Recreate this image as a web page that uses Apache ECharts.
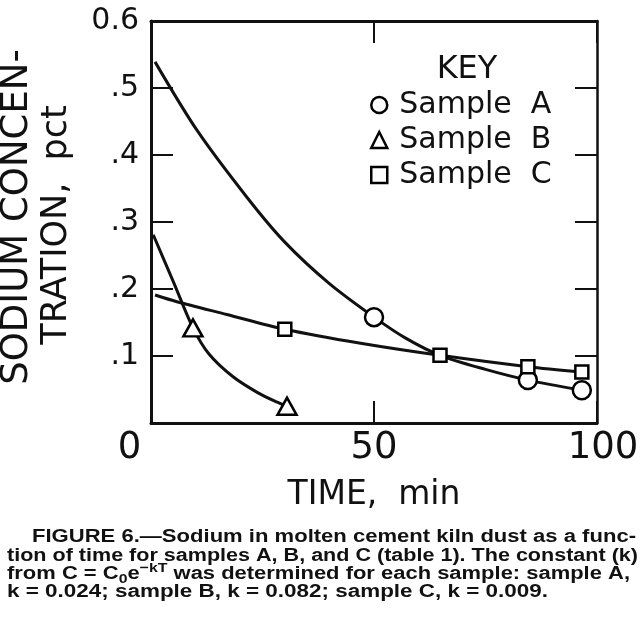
<!DOCTYPE html>
<html><head><meta charset="utf-8">
<script src="https://cdn.jsdelivr.net/npm/echarts@6/dist/echarts.min.js"></script>
<style>html,body{margin:0;padding:0;background:#fff}#chart{width:643px;height:630px}</style>
</head><body><div id="chart"></div>
<script>
// ---------------- data ----------------
const sampleNames = ['Sample A', 'Sample B', 'Sample C'];
const xTickValues = [0, 50, 100];
const xTickLabels = ['0', '50', '100'];
const yTickValues = [0.1, 0.2, 0.3, 0.4, 0.5, 0.6];
const yTickLabels = ['.1', '.2', '.3', '.4', '.5', '0.6'];
const xAxisTitle = 'TIME,  min';
const yAxisTitle1 = 'SODIUM CONCEN-';
const yAxisTitle2 = 'TRATION,  pct';
const keyTitle = 'KEY';

// measured points (time min, sodium pct)
const markersA = [[50.0, 0.158], [84.5, 0.064], [96.6, 0.049]];
const markersB = [[9.4, 0.142], [30.5, 0.025]];
const markersC = [[30.0, 0.140], [64.8, 0.101], [84.5, 0.084], [96.6, 0.076]];

// drawn curves, read along the lines of the figure
const curveA = [[0.9, 0.539], [10.3, 0.437], [21.5, 0.337], [30.0, 0.270], [40.0, 0.208],
                [50.0, 0.158], [57.0, 0.127], [64.8, 0.101], [75.0, 0.080], [84.5, 0.064],
                [96.6, 0.049]];
const curveB = [[0.5, 0.281], [5.0, 0.211], [9.4, 0.142], [13.0, 0.103], [18.4, 0.069],
                [24.0, 0.045], [28.3, 0.031], [30.5, 0.025]];
const curveC = [[0.9, 0.191], [5.8, 0.181], [17.0, 0.162], [30.0, 0.140], [47.0, 0.119],
                [64.8, 0.101], [84.5, 0.084], [96.6, 0.076]];

const captionL1 = 'FIGURE 6.\u2014Sodium in molten cement kiln dust as a func-';
const captionL2 = 'tion of time for samples A, B, and C (table 1). The constant (k)';
const captionL3 = [{t: 'from C = C'}, {t: '0', sub: true}, {t: 'e'}, {t: '\u2212kT', sup: true},
                   {t: ' was determined for each sample: sample A,'}];
const captionL4 = 'k = 0.024; sample B, k = 0.082; sample C, k = 0.009.';

// ---------------- styles ----------------
const INK = '#000';
const FONT = '"DejaVu Sans", "Liberation Sans", sans-serif';
const CAP_FONT = '"Liberation Sans", Arial, sans-serif';

const chart = echarts.init(document.getElementById('chart'), null, {renderer: 'canvas'});

function yLabel(v) {
  for (let i = 0; i < yTickValues.length; i++) if (Math.abs(yTickValues[i] - v) < 1e-6) return yTickLabels[i];
  return '';
}
function xLabel(v) {
  const i = xTickValues.findIndex(t => Math.abs(t - v) < 1e-6);
  if (i < 0) return '';
  if (i === 0) return '{l|' + xTickLabels[i] + '}';
  if (i === xTickValues.length - 1) return '{r|' + xTickLabels[i] + '}';
  return xTickLabels[i];
}

// caption layout: fit each line to its measured extent
const mctx = document.createElement('canvas').getContext('2d');
function capFont(sz) { return 'bold ' + sz + 'px ' + CAP_FONT; }
function layoutCaption(pieces, x0, x1, baseline) {
  const els = [];
  const items = pieces.map(p => {
    const sz = (p.sub || p.sup) ? 13 : 18;
    mctx.font = capFont(sz);
    return {p, sz, w: mctx.measureText(p.t).width};
  });
  const total = items.reduce((s, it) => s + it.w, 0);
  const sc = (x1 - x0) / total;
  let x = x0;
  items.forEach(it => {
    const shift = it.p.sub ? 4 : (it.p.sup ? -7 : 0);
    els.push({
      type: 'text', x: x, y: baseline + shift - 0.35 * it.sz, scaleX: sc, scaleY: 1.05, silent: true,
      style: {text: it.p.t, font: capFont(it.sz), fill: '#111', textAlign: 'left', textVerticalAlign: 'middle'}
    });
    x += it.w * sc;
  });
  return els;
}

const graphics = [].concat(
  layoutCaption([{t: captionL1}], 32, 636, 543),
  layoutCaption([{t: captionL2}], 7, 638, 562),
  layoutCaption(captionL3, 7, 630, 580),
  layoutCaption([{t: captionL4}], 7, 548, 598),
  [
    {type: 'text', x: 17, y: 217, rotation: Math.PI / 2, silent: true,
     style: {text: yAxisTitle1, font: '37px ' + FONT, fill: '#111', textAlign: 'center', textVerticalAlign: 'middle'}},
    {type: 'text', x: 57, y: 225, rotation: Math.PI / 2, silent: true,
     style: {text: yAxisTitle2, font: '35px ' + FONT, fill: '#111', textAlign: 'center', textVerticalAlign: 'middle'}},
    {type: 'text', x: 467, y: 70, silent: true,
     style: {text: keyTitle, font: '32px ' + FONT, fill: '#111', textAlign: 'center', textVerticalAlign: 'middle'}}
  ]
);

const markerStyle = {color: '#fff', borderColor: INK, borderWidth: 2.5, opacity: 1};
function curveSeries(name, data) {
  return {name: name + ' curve', type: 'line', data: data, smooth: 0.3, symbol: 'none', z: 2,
          lineStyle: {color: '#111', width: 3}, silent: true};
}
function markerSeries(name, data, symbol, size) {
  return {name: name, type: 'scatter', data: data, symbol: symbol, symbolSize: size, z: 5,
          itemStyle: markerStyle, silent: true};
}

const axisLineStyle = {color: '#111', width: 3};
const tickStyle = {show: true, inside: true, length: 22, lineStyle: {color: '#111', width: 2}};

const option = {
  animation: false,
  backgroundColor: '#fff',
  grid: {left: 151, right: 46, top: 21, bottom: 207, containLabel: false},
  xAxis: [
    {type: 'value', min: 0, max: 100, interval: 50, position: 'bottom',
     axisLine: {show: true, onZero: false, lineStyle: axisLineStyle},
     axisTick: tickStyle, splitLine: {show: false},
     axisLabel: {margin: 7, color: '#111', fontFamily: FONT, fontSize: 37, formatter: xLabel,
                 rich: {l: {fontFamily: FONT, fontSize: 37, color: '#111', padding: [0, 43, 0, 0]},
                        r: {fontFamily: FONT, fontSize: 37, color: '#111', padding: [0, 0, 0, 12]}}},
     name: xAxisTitle, nameLocation: 'middle', nameGap: 56,
     nameTextStyle: {fontFamily: FONT, fontSize: 33, color: '#111'}},
    {type: 'value', min: 0, max: 100, interval: 50, position: 'top',
     axisLine: {show: true, onZero: false, lineStyle: axisLineStyle},
     axisTick: tickStyle, splitLine: {show: false}, axisLabel: {show: false}}
  ],
  yAxis: [
    {type: 'value', min: 0, max: 0.6, interval: 0.1, position: 'left',
     axisLine: {show: true, onZero: false, lineStyle: axisLineStyle},
     axisTick: tickStyle, splitLine: {show: false},
     axisLabel: {margin: 12, color: '#111', fontFamily: FONT, fontSize: 30, formatter: yLabel}},
    {type: 'value', min: 0, max: 0.6, interval: 0.1, position: 'right',
     axisLine: {show: true, onZero: false, lineStyle: {color: '#111', width: 2.5}},
     axisTick: tickStyle, splitLine: {show: false}, axisLabel: {show: false}}
  ],
  legend: {
    orient: 'vertical', left: 370, top: 87.5, padding: 0, itemGap: 0,
    itemWidth: 16, itemHeight: 16, selectedMode: false,
    data: sampleNames.map(n => ({name: n, itemStyle: {color: '#fff', borderColor: INK, borderWidth: 2.5, opacity: 1}})),
    itemStyle: {color: '#fff', borderColor: INK, borderWidth: 2.5, opacity: 1},
    formatter: n => n.replace(' ', '  '),
    textStyle: {fontFamily: FONT, fontSize: 30, lineHeight: 35, color: '#111', padding: [0, 0, 0, 7]}
  },
  graphic: graphics,
  series: [
    curveSeries(sampleNames[0], curveA),
    curveSeries(sampleNames[1], curveB),
    curveSeries(sampleNames[2], curveC),
    markerSeries(sampleNames[0], markersA, 'circle', 18),
    markerSeries(sampleNames[1], markersB, 'triangle', [19, 17]),
    markerSeries(sampleNames[2], markersC, 'rect', 13)
  ]
};
chart.setOption(option);
</script>
</body></html>
